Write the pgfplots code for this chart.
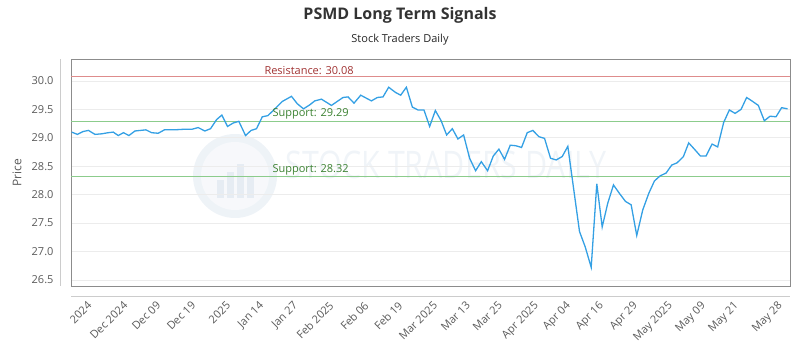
\documentclass[border=0pt]{standalone}
\usepackage{fontspec}
\setmainfont{Open Sans}
\usepackage{pgfplots}
\pgfplotsset{compat=1.18}
\definecolor{linec}{RGB}{52,160,228}
\definecolor{resc}{RGB}{222,140,140}
\definecolor{restxt}{RGB}{160,50,50}
\definecolor{supc}{RGB}{140,204,140}
\definecolor{suptxt}{RGB}{60,130,50}
\definecolor{framec}{RGB}{140,140,140}
\definecolor{gridc}{RGB}{236,236,236}
\definecolor{outerc}{RGB}{204,204,204}
\definecolor{labc}{RGB}{90,90,90}
\definecolor{titc}{RGB}{51,51,51}
\definecolor{wmc}{RGB}{200,215,230}
\pgfplotstableread{
x y
0 29.10
5.7 29.06
11.3 29.11
16.8 29.13
23.3 29.06
30 29.07
36.6 29.09
41.6 29.10
46.6 29.04
51.8 29.09
57.3 29.04
63.3 29.12
74.3 29.14
80 29.09
86.6 29.08
92.8 29.14
102.3 29.14
112.3 29.15
120.3 29.15
126.6 29.18
133.3 29.12
139 29.16
145 29.32
150.3 29.40
156 29.20
161.6 29.26
167.3 29.29
174 29.04
179.6 29.13
185 29.16
190.8 29.37
196.3 29.39
202.3 29.49
210.8 29.64
220 29.73
225.8 29.60
232 29.51
238.3 29.58
243.3 29.65
250 29.68
260 29.57
271.6 29.71
276.6 29.72
282.6 29.61
289.3 29.75
300 29.65
306 29.71
311.6 29.72
317.3 29.89
324 29.80
329.3 29.75
335 29.89
341 29.54
346.6 29.49
352.6 29.49
358.3 29.20
364 29.48
369.8 29.30
375.3 29.05
381 29.16
386.6 28.98
392.3 29.05
398.3 28.64
404.3 28.42
410 28.58
416.3 28.42
422 28.68
427.6 28.80
433.3 28.62
439 28.87
444.6 28.86
450.3 28.83
456 29.09
461.6 29.13
467.6 29.02
473.3 28.99
479.3 28.64
485 28.61
491 28.67
496.6 28.85
508.3 27.35
514 27.08
520 26.72
525.6 28.19
531 27.43
536.6 27.85
542.3 28.17
548.3 28.02
554.3 27.88
560 27.82
565.6 27.28
571.6 27.73
577.6 28.02
583.3 28.24
589 28.33
595 28.38
600.6 28.52
606 28.56
612.3 28.67
617.6 28.91
623.3 28.80
629.3 28.68
635 28.68
641 28.89
646.6 28.84
652.6 29.27
658.3 29.49
664 29.43
670 29.50
675.6 29.71
681.6 29.64
687.3 29.57
693.3 29.30
699 29.38
705 29.37
710.6 29.53
716.6 29.51
}\pricedata
\begin{document}
\begin{tikzpicture}[x=1pt,y=1pt]
\useasboundingbox (-71,-64) rectangle (729,286);
% watermark
\fill[wmc,opacity=0.3] (164,110) circle (42);
\fill[white,opacity=0.5] (164,110) circle (34);
\foreach \bx/\bh in {146/18,156/26,166/34,176/22}{\fill[wmc,opacity=0.35] (\bx,88) rectangle ++(7,\bh);}
\node[anchor=west,text=wmc,opacity=0.28,font=\fontsize{38}{38}\selectfont,xscale=0.8] at (212,121) {STOCK TRADERS DAILY};
% outer axis lines
\draw[outerc, line width=0.8pt] (-11,0) -- (-11,226.7);
\draw[outerc, line width=0.8pt] (0,-10) -- (719,-10);
\begin{axis}[
  at={(0,0)}, anchor=south west,
  scale only axis, width=719pt, height=226.7pt,
  xmin=-0.7, xmax=719, ymin=26.391, ymax=30.382,
  axis line style={framec, line width=0.8pt},
  ymajorgrids, grid style={gridc, line width=0.6pt},
  major tick length=0pt,
  ytick={26.5,27,27.5,28,28.5,29,29.5,30},
  /pgf/number format/fixed,
  /pgf/number format/fixed zerofill,
  /pgf/number format/precision=1,
  /pgf/number format/assume math mode=true,
  yticklabel style={font=\fontsize{11}{13}\selectfont, text=labc, xshift=-14pt},
  xtick={15,51,84,119,154,187,221,257,292,326,361,394,426,462,494,527,561,596,629,662,706},
  xticklabels={2024,Dec 2024,Dec 09,Dec 19,2025,Jan 14,Jan 27,Feb 2025,Feb 06,Feb 19,Mar 2025,Mar 13,Mar 25,Apr 2025,Apr 04,Apr 16,Apr 29,May 2025,May 09,May 21,May 28},
  xticklabel style={font=\fontsize{11}{13}\selectfont, text=labc, yshift=-13pt, rotate=45, anchor=north east, inner sep=1pt},
  ylabel={Price},
  every axis y label/.style={at={(rel axis cs:0,0.5)}, xshift=-54pt, rotate=90, anchor=center, font=\fontsize{12}{14}\selectfont, text=labc},
  clip=false,
]
\addplot[resc, line width=1.4pt] coordinates {(-0.7,30.08) (719,30.08)};
\addplot[supc, line width=1.4pt] coordinates {(-0.7,29.29) (719,29.29)};
\addplot[supc, line width=1.4pt] coordinates {(-0.7,28.32) (719,28.32)};
\addplot[linec, line width=1.3pt, mark=none] table[x=x,y=y] {\pricedata};
\node[anchor=south west, text=restxt, font=\fontsize{11}{13}\selectfont, inner sep=1.5pt] at (axis cs:191.3,30.08) {Resistance: 30.08};
\node[anchor=south west, text=suptxt, font=\fontsize{11}{13}\selectfont, inner sep=1.5pt] at (axis cs:199.3,29.29) {Support: 29.29};
\node[anchor=south west, text=suptxt, font=\fontsize{11}{13}\selectfont, inner sep=1.5pt] at (axis cs:199.3,28.32) {Support: 28.32};
\end{axis}
\node[font=\fontsize{16}{18}\selectfont\bfseries, text=titc] at (329,271) {PSMD Long Term Signals};
\node[font=\fontsize{11}{13}\selectfont, text=black!85] at (329,246) {Stock Traders Daily};
\end{tikzpicture}
\end{document}
